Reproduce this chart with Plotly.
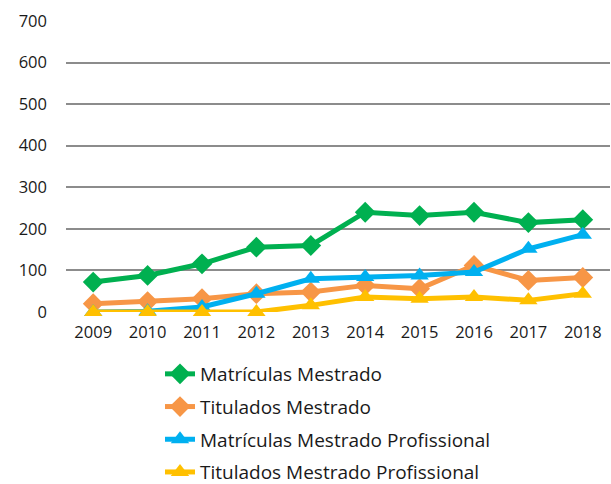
import plotly.graph_objects as go

years = ["2009", "2010", "2011", "2012", "2013", "2014", "2015", "2016", "2017", "2018"]
matriculas_mestrado = [72, 88, 116, 156, 160, 240, 232, 240, 215, 222]
titulados_mestrado = [20, 25, 32, 44, 48, 64, 56, 112, 76, 83]
matriculas_mp = [0, 2, 12, 44, 80, 84, 88, 96, 152, 186]
titulados_mp = [0, 0, 0, 0, 16, 36, 32, 36, 28, 44]
y_ticks = [0, 100, 200, 300, 400, 500, 600, 700]

series = [
    ("Matrículas Mestrado", matriculas_mestrado, "#00B050", "diamond"),
    ("Titulados Mestrado", titulados_mestrado, "#F79646", "diamond"),
    ("Matrículas Mestrado Profissional", matriculas_mp, "#00B0F0", "triangle-up"),
    ("Titulados Mestrado Profissional", titulados_mp, "#FFC000", "triangle-up"),
]

fig = go.Figure()
for i, (name, vals, color, sym) in enumerate(series):
    fig.add_trace(go.Scatter(
        x=years, y=vals, name=name, mode="lines+markers",
        line=dict(color=color, width=5),
        marker=dict(symbol=sym, size=16, color=color),
        legendgroup=f"g{i}", cliponaxis=False,
    ))

family = "Open Sans, Liberation Sans, sans-serif"
tick_font = dict(family=family, size=16.5, color="#1a1a1a")
legend_font = dict(family=family, size=19, color="#1a1a1a")

fig.update_layout(
    width=611, height=484,
    margin=dict(l=66, r=1, t=21, b=172, autoexpand=False),
    paper_bgcolor="white", plot_bgcolor="white",
    font=tick_font,
    showlegend=True,
    legend=dict(
        xref="container", yref="container",
        x=160 / 611, xanchor="left", y=1 - 355 / 484, yanchor="top",
        traceorder="grouped", tracegroupgap=5,
        font=legend_font, bgcolor="rgba(0,0,0,0)",
    ),
    xaxis=dict(
        type="category", range=[-0.5, 9.5],
        showgrid=False, zeroline=False, showline=False,
        ticks="", tickfont=tick_font, ticklabelstandoff=8,
    ),
    yaxis=dict(
        range=[0, 700], tickvals=y_ticks,
        showgrid=True, gridcolor="#8c8c8c", gridwidth=1.5,
        zeroline=False, showline=False, ticks="",
        tickfont=tick_font, ticklabelstandoff=18,
    ),
)

fig.write_html("out.html")
